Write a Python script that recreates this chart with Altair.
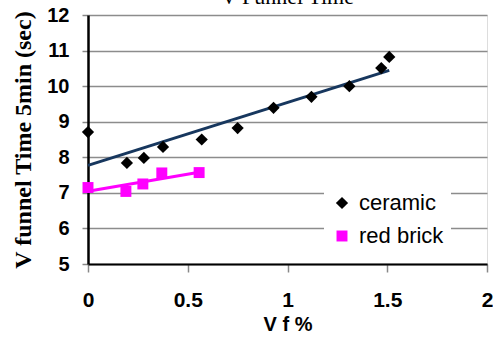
import altair as alt
import pandas as pd

ceramic_vf = [0.0, 0.195, 0.28, 0.376, 0.57, 0.75, 0.93, 1.12, 1.31, 1.47, 1.51]
ceramic_time = [8.71, 7.84, 7.98, 8.29, 8.5, 8.82, 9.39, 9.7, 10.0, 10.51, 10.82]
brick_vf = [0.0, 0.19, 0.275, 0.37, 0.557]
brick_time = [7.15, 7.04, 7.25, 7.56, 7.57]

df = pd.DataFrame({
    "vf": ceramic_vf + brick_vf,
    "time": ceramic_time + brick_time,
    "material": ["ceramic"] * len(ceramic_vf) + ["red brick"] * len(brick_vf),
})

xs = alt.X("vf:Q", title="V f %",
           scale=alt.Scale(domain=[0, 2], nice=False, zero=False),
           axis=alt.Axis(values=[0, 0.5, 1, 1.5, 2], format="~g", grid=False,
                         labelFlush=False,
                         labelFont="Liberation Sans", labelFontWeight="bold", labelFontSize=21,
                         labelColor="black", labelPadding=17,
                         tickColor="#888888", tickSize=8, tickWidth=1.5,
                         domainColor="black", domainWidth=2,
                         titleFont="Liberation Sans", titleFontWeight="bold", titleFontSize=20,
                         titleColor="black", titlePadding=4))
ys = alt.Y("time:Q", title="V funnel Time 5min (sec)",
           scale=alt.Scale(domain=[5, 12], nice=False, zero=False),
           axis=alt.Axis(values=[5, 6, 7, 8, 9, 10, 11, 12], grid=True,
                         gridColor="#8c8c8c", gridWidth=1.5, labelOverlap=False,
                         labelFont="Liberation Sans", labelFontWeight="bold", labelFontSize=20,
                         labelColor="black", labelPadding=13,
                         tickColor="#888888", tickSize=6, tickWidth=1.5,
                         domainColor="black", domainWidth=2.5,
                         titleFont="Liberation Serif", titleFontWeight="bold", titleFontSize=24,
                         titleColor="black", titlePadding=11))

points = alt.Chart(df).mark_point(filled=True, opacity=1).encode(
    x=xs, y=ys,
    color=alt.Color("material:N",
                    scale=alt.Scale(domain=["ceramic", "red brick"], range=["black", "#FF00FF"]),
                    legend=alt.Legend(title=None, orient="none", legendX=236, legendY=170,
                                      fillColor="white", padding=7,
                                      labelFont="Liberation Sans", labelFontSize=22,
                                      labelColor="black", rowPadding=11, labelOffset=6,
                                      symbolSize=110, symbolStrokeWidth=0)),
    shape=alt.Shape("material:N",
                    scale=alt.Scale(domain=["ceramic", "red brick"], range=["diamond", "square"]),
                    legend=None),
    size=alt.Size("material:N",
                  scale=alt.Scale(domain=["ceramic", "red brick"], range=[150, 120]),
                  legend=None),
)

line_c = alt.Chart(df).transform_filter(alt.datum.material == "ceramic").transform_regression(
    "vf", "time").mark_line(color="#17375E", strokeWidth=3).encode(x=xs, y=ys)
line_b = alt.Chart(df).transform_filter(alt.datum.material == "red brick").transform_regression(
    "vf", "time").mark_line(color="#FF00FF", strokeWidth=3).encode(x=xs, y=ys)

chart = alt.layer(line_c, line_b, points).properties(
    width=399, height=249,
    title=alt.TitleParams("V Funnel Time", font="Liberation Serif", fontSize=22,
                          fontWeight="normal", color="black", baseline="alphabetic",
                          anchor="middle", frame="group", offset=0, dy=21),
    autosize=alt.AutoSizeParams(type="none"),
    padding={"left": 88, "top": 15, "right": 6, "bottom": 74},
).configure_view(stroke="black", strokeWidth=2.5).configure(background="white")

chart.save("out.html", embed_options={"renderer": "svg", "actions": False})
